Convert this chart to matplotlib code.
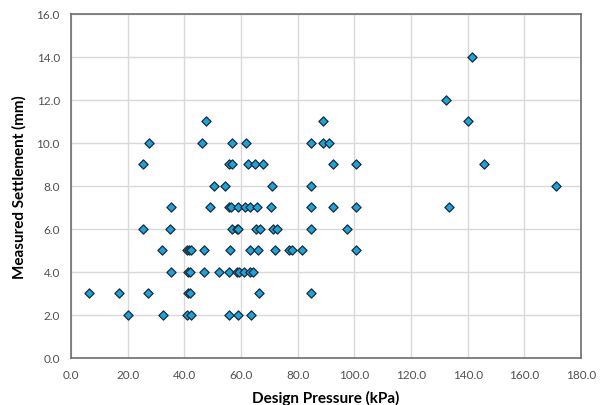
import matplotlib
matplotlib.use('Agg')
import matplotlib.pyplot as plt

plt.rcParams['font.family'] = ['Lato', 'DejaVu Sans']

# design pressure (kPa) grouped by measured settlement (mm)
x_14 = [141.6]
x_12 = [132.2]
x_11 = [47.8, 88.9, 140.3]
x_10 = [27.4, 46.1, 56.7, 61.6, 84.6, 88.8, 91.2]
x_9 = [25.4, 55.7, 56.7, 62.4, 64.8, 67.6, 92.6, 100.5, 145.8]
x_8 = [50.6, 54.4, 70.8, 84.6, 171.3]
x_7 = [35.4, 49.2, 55.6, 56.5, 59.1, 61.5, 63.2, 65.8, 70.5, 84.6, 92.6, 100.7, 133.3]
x_6 = [25.3, 35.1, 56.7, 58.5, 59.1, 65.4, 66.8, 71.3, 72.8, 84.6, 97.5]
x_5 = [32.1, 40.8, 41.5, 42.2, 47.1, 56.0, 63.1, 65.9, 72.0, 77.1, 78.0, 81.4, 100.7]
x_4 = [35.2, 41.2, 42.0, 47.1, 52.1, 55.9, 58.6, 59.2, 61.1, 63.1, 64.3]
x_3 = [6.2, 16.9, 27.1, 41.2, 42.1, 66.2, 84.6]
x_2 = [20.2, 32.4, 40.8, 42.2, 55.9, 59.1, 63.5]

groups = {14: x_14, 12: x_12, 11: x_11, 10: x_10, 9: x_9, 8: x_8,
          7: x_7, 6: x_6, 5: x_5, 4: x_4, 3: x_3, 2: x_2}

pressure = []
settlement = []
for s, xs in groups.items():
    for x in xs:
        pressure.append(x)
        settlement.append(s)

fig = plt.figure(figsize=(6, 4.06), dpi=100)
ax = fig.add_axes([0.1183, 0.1158, 0.85, 0.848])

ax.scatter(pressure, settlement, marker='D', s=22, facecolor='#1AA3DC',
           edgecolor='#1F2A33', linewidth=0.9, zorder=3)

ax.set_xlim(0, 180)
ax.set_ylim(0, 16)
ax.set_xticks(range(0, 181, 20))
ax.set_yticks(range(0, 17, 2))
ax.set_xticklabels(['%.1f' % v for v in range(0, 181, 20)])
ax.set_yticklabels(['%.1f' % v for v in range(0, 17, 2)])
ax.tick_params(length=0, labelsize=8.5, colors='#505050', pad=8)
ax.grid(True, color='#D9D9D9', linewidth=1)
ax.set_axisbelow(True)
for sp in ax.spines.values():
    sp.set_color('#6E6E6E')
    sp.set_linewidth(1.2)

ax.set_xlabel('Design Pressure (kPa)', fontsize=11, fontweight='bold', labelpad=7)
ax.set_ylabel('Measured Settlement (mm)', fontsize=11, fontweight='bold', labelpad=7)

fig.savefig('out.png', dpi=100)
